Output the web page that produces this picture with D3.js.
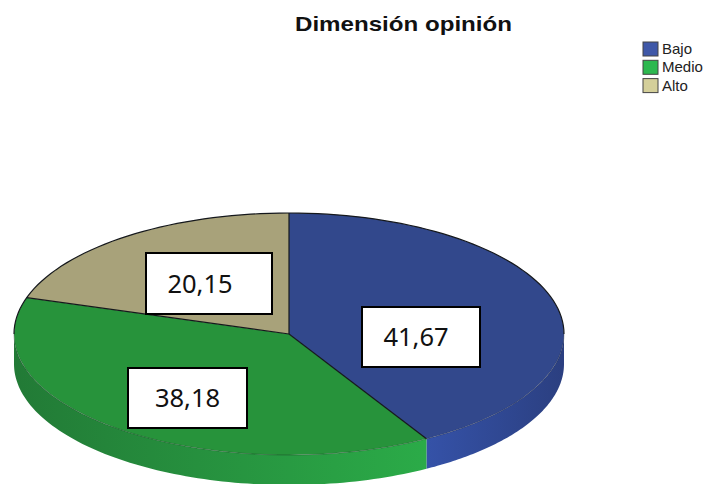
<!DOCTYPE html>
<html lang="es">
<head>
<meta charset="utf-8">
<title>Dimensión opinión</title>
<script src="https://cdn.jsdelivr.net/npm/d3@7"></script>
<style>
  html, body { margin: 0; background: #fff; }
  svg { display: block; }
</style>
</head>
<body>
<svg id="chart" width="707" height="484"></svg>
<script>
// Survey results, in percent
const categories = ["Bajo", "Medio", "Alto"];
const values = [41.67, 38.18, 20.15];
const valueLabels = ["41,67", "38,18", "20,15"];

// Per-slice colours
const topColors = ["#32488c", "#27933b", "#a8a27a"];
const legendColors = ["#3f58a8", "#2db84f", "#d4cf9a"];
const wallStops = [
  ["#3552a8", "#2b3f80"],
  ["#227a36", "#2bab48"],
  ["#8a8562", "#8a8562"]
];

// Value boxes: left, top, width, height, text centre
const labelBoxes = [
  { x: 362, y: 307, w: 118, h: 60, tx: 416 },
  { x: 128, y: 368, w: 119, h: 60, tx: 187.5 },
  { x: 146, y: 253, w: 126, h: 61, tx: 200 }
];

// Disc geometry
const cx = 289, cy = 334, rx = 275, ry = 121, depth = 30;

const svg = d3.select("#chart");
const defs = svg.append("defs");

const slices = d3.pie().sort(null).startAngle(0).endAngle(2 * Math.PI)(values);

// A point on the rim of the disc; angles run clockwise from the top
const rimX = a => cx + rx * Math.sin(a);
const rimY = a => cy - ry * Math.cos(a);
const rimPoints = (a0, a1, n = 90) =>
  d3.range(0, n + 1).map(k => a0 + (a1 - a0) * k / n).map(a => [rimX(a), rimY(a)]);

// Side wall: only the part facing the viewer, between 90 and 270 degrees
const wallStart = Math.PI / 2, wallEnd = 3 * Math.PI / 2;
const line = d3.line();

const walls = svg.append("g");
slices.forEach((s, i) => {
  const a0 = Math.max(s.startAngle, wallStart);
  const a1 = Math.min(s.endAngle, wallEnd);
  if (a1 <= a0) return;

  const x0 = rimX(a0), x1 = rimX(a1);
  const grad = defs.append("linearGradient")
    .attr("id", `wall-${i}`)
    .attr("gradientUnits", "userSpaceOnUse")
    .attr("x1", Math.min(x0, x1)).attr("x2", Math.max(x0, x1))
    .attr("y1", 0).attr("y2", 0);
  grad.append("stop").attr("offset", 0).attr("stop-color", wallStops[i][0]);
  grad.append("stop").attr("offset", 1).attr("stop-color", wallStops[i][1]);

  const upper = rimPoints(a0, a1);
  const lower = upper.slice().reverse().map(([x, y]) => [x, y + depth]);
  walls.append("path")
    .attr("d", line(upper.concat(lower)) + "Z")
    .attr("fill", `url(#wall-${i})`);
});

// Top face: circular arcs squashed into an ellipse
const arc = d3.arc().innerRadius(0).outerRadius(rx);
svg.append("g")
  .attr("transform", `translate(${cx},${cy}) scale(1,${ry / rx})`)
  .selectAll("path")
  .data(slices)
  .join("path")
  .attr("d", arc)
  .attr("fill", (d, i) => topColors[i]);

// Outlines: a dark far rim and spokes, with a faint near rim
const outlines = svg.append("g").attr("fill", "none").attr("stroke", "#15181c");
outlines.append("path")
  .attr("d", line(rimPoints(wallEnd, wallStart + 2 * Math.PI)))
  .attr("stroke-width", 1.2);
outlines.append("path")
  .attr("d", line(rimPoints(wallStart, wallEnd)))
  .attr("stroke-width", 1)
  .attr("stroke-opacity", 0.3);
outlines.selectAll("line")
  .data(slices)
  .join("line")
  .attr("x1", cx).attr("y1", cy)
  .attr("x2", d => rimX(d.startAngle))
  .attr("y2", d => rimY(d.startAngle))
  .attr("stroke-width", 1.2);

// Value boxes
const boxes = svg.append("g").selectAll("g")
  .data(labelBoxes)
  .join("g");
boxes.append("rect")
  .attr("x", d => d.x).attr("y", d => d.y)
  .attr("width", d => d.w).attr("height", d => d.h)
  .attr("fill", "#fff").attr("stroke", "#000").attr("stroke-width", 2);
boxes.append("text")
  .attr("x", d => d.tx)
  .attr("y", d => d.y + d.h / 2)
  .attr("dy", "0.36em")
  .attr("text-anchor", "middle")
  .attr("font-family", "'Noto Sans', 'Open Sans', sans-serif")
  .attr("font-size", 25.5)
  .attr("fill", "#111")
  .text((d, i) => valueLabels[i]);

// Title
svg.append("text")
  .attr("x", 295).attr("y", 31)
  .attr("font-family", "'Liberation Sans', Arial, sans-serif")
  .attr("font-weight", "bold")
  .attr("font-size", 21)
  .attr("textLength", 217)
  .attr("lengthAdjust", "spacingAndGlyphs")
  .attr("fill", "#111")
  .text("Dimensión opinión");

// Legend
const legend = svg.append("g").selectAll("g")
  .data(categories)
  .join("g")
  .attr("transform", (d, i) => `translate(643,${42 + i * 18.3})`);
legend.append("rect")
  .attr("width", 15).attr("height", 14)
  .attr("fill", (d, i) => legendColors[i])
  .attr("stroke", "#444").attr("stroke-width", 1);
legend.append("text")
  .attr("x", 19).attr("y", 12)
  .attr("font-family", "'Liberation Sans', Arial, sans-serif")
  .attr("font-size", 15)
  .attr("fill", "#222")
  .text(d => d);
</script>
</body>
</html>
